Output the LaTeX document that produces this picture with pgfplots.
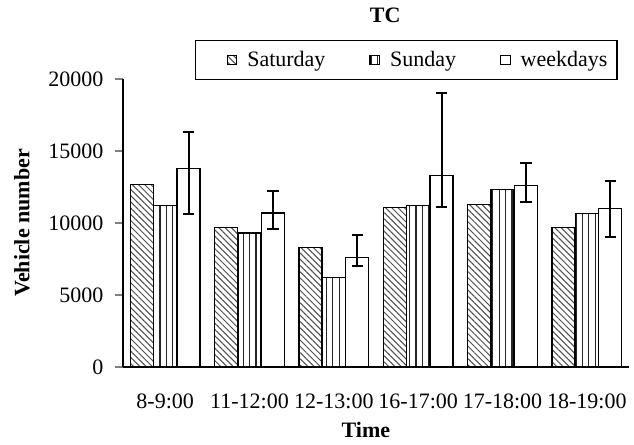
\documentclass[border=0pt]{standalone}
\usepackage{fontspec}
\setmainfont{Liberation Serif}
\usepackage{pgfplots}
\pgfplotsset{compat=1.18}
\usetikzlibrary{patterns.meta}
\pgfplotsset{
  legsq/.style={/pgfplots/legend image code/.code={\draw[##1,line width=0.6pt,bar shift=0pt] (0pt,-2.4pt) rectangle (4.8pt,2.4pt);\path[draw=none,fill=none] (0pt,0pt) -- (8pt,0pt);}},
  legsqfirst/.style={/pgfplots/legend image code/.code={\draw[##1,line width=0.6pt,bar shift=0pt] (0pt,-2.4pt) rectangle (4.8pt,2.4pt);\path[draw=none,fill=none] (-13pt,0pt) -- (8pt,0pt);}},
}
\begin{document}
\begin{tikzpicture}
\begin{axis}[
  name=ax,
  scale only axis,
  width=253pt, height=144pt,
  font=\fontsize{11}{13}\selectfont,
  /pgf/number format/assume math mode=true,
  /pgf/number format/1000 sep={},
  scaled y ticks=false,
  axis lines=left,
  axis line style={-, line width=0.6pt},
  tick align=outside,
  xmin=-0.5, xmax=5.5,
  ymin=0, ymax=20000,
  ytick={0,5000,10000,15000,20000},
  xtick={0,1,2,3,4,5},
  xticklabels={8-9:00,11-12:00,12-13:00,16-17:00,17-18:00,18-19:00},
  minor xtick={-0.5,0.5,1.5,2.5,3.5,4.5,5.5},
  major tick length=4pt,
  minor tick length=2.5pt,
  every x tick/.style={draw=none},
  every minor tick/.style={black, line width=0.6pt},
  every major tick/.append style={line width=0.6pt},
  xticklabel style={yshift=-6pt, font=\fontsize{11}{13}\selectfont},
  yticklabel style={xshift=-2.3pt, font=\fontsize{11}{13}\selectfont},
  xlabel={\textbf{Time}},
  ylabel={\textbf{Vehicle number}},
  xlabel style={at={(axis description cs:0.48,-0.219)}, anchor=center},
  ylabel style={at={(axis description cs:-0.2,0.5)}, anchor=center},
  title={\textbf{TC}},
  every axis title shift=0pt,
  title style={at={(axis description cs:0.518,1.222)}, anchor=center},
  ybar,
  bar width=11.5pt,
  legend columns=3,
  legend style={at={(axis description cs:0.56,1.066)}, anchor=center,
    draw=black, line width=0.6pt, inner xsep=2.8pt, inner ysep=3pt,
    font=\fontsize{11}{13}\selectfont,
    /tikz/every even column/.append style={column sep=20pt}},
  legend cell align=left,
]
\addplot[draw=black, line width=0.6pt, bar shift=-11.7pt,
  pattern={Lines[angle=-45,distance=2.2pt,line width=0.5pt]}, pattern color=black!70, legsqfirst]
  coordinates {(0,12700) (1,9700) (2,8300) (3,11100) (4,11300) (5,9700)};
\addplot[draw=black, line width=0.6pt, bar shift=0pt,
  pattern={Lines[angle=90,distance=3.2pt,line width=0.6pt]}, pattern color=black!85, legsq]
  coordinates {(0,11200) (1,9300) (2,6200) (3,11200) (4,12300) (5,10650)};
\addplot[draw=black, line width=0.6pt, fill=white, bar shift=11.7pt, legsq,
  error bars/.cd, y dir=both, y explicit,
  error bar style={line width=1pt, black},
  error mark options={rotate=90, mark size=2.8pt, line width=1pt, black}]
  coordinates {
  (0,13800) += (0,2500) -= (0,3200)
  (1,10700) += (0,1500) -= (0,1100)
  (2,7600) += (0,1550) -= (0,600)
  (3,13300) += (0,5700) -= (0,2200)
  (4,12600) += (0,1600) -= (0,1150)
  (5,11000) += (0,1950) -= (0,2000)
  };
\legend{Saturday,Sunday,weekdays}
\end{axis}
\path ([shift={(-61.5pt,-37pt)}]ax.south west) rectangle ([shift={(2.5pt,39.5pt)}]ax.north east);
\end{tikzpicture}
\end{document}
